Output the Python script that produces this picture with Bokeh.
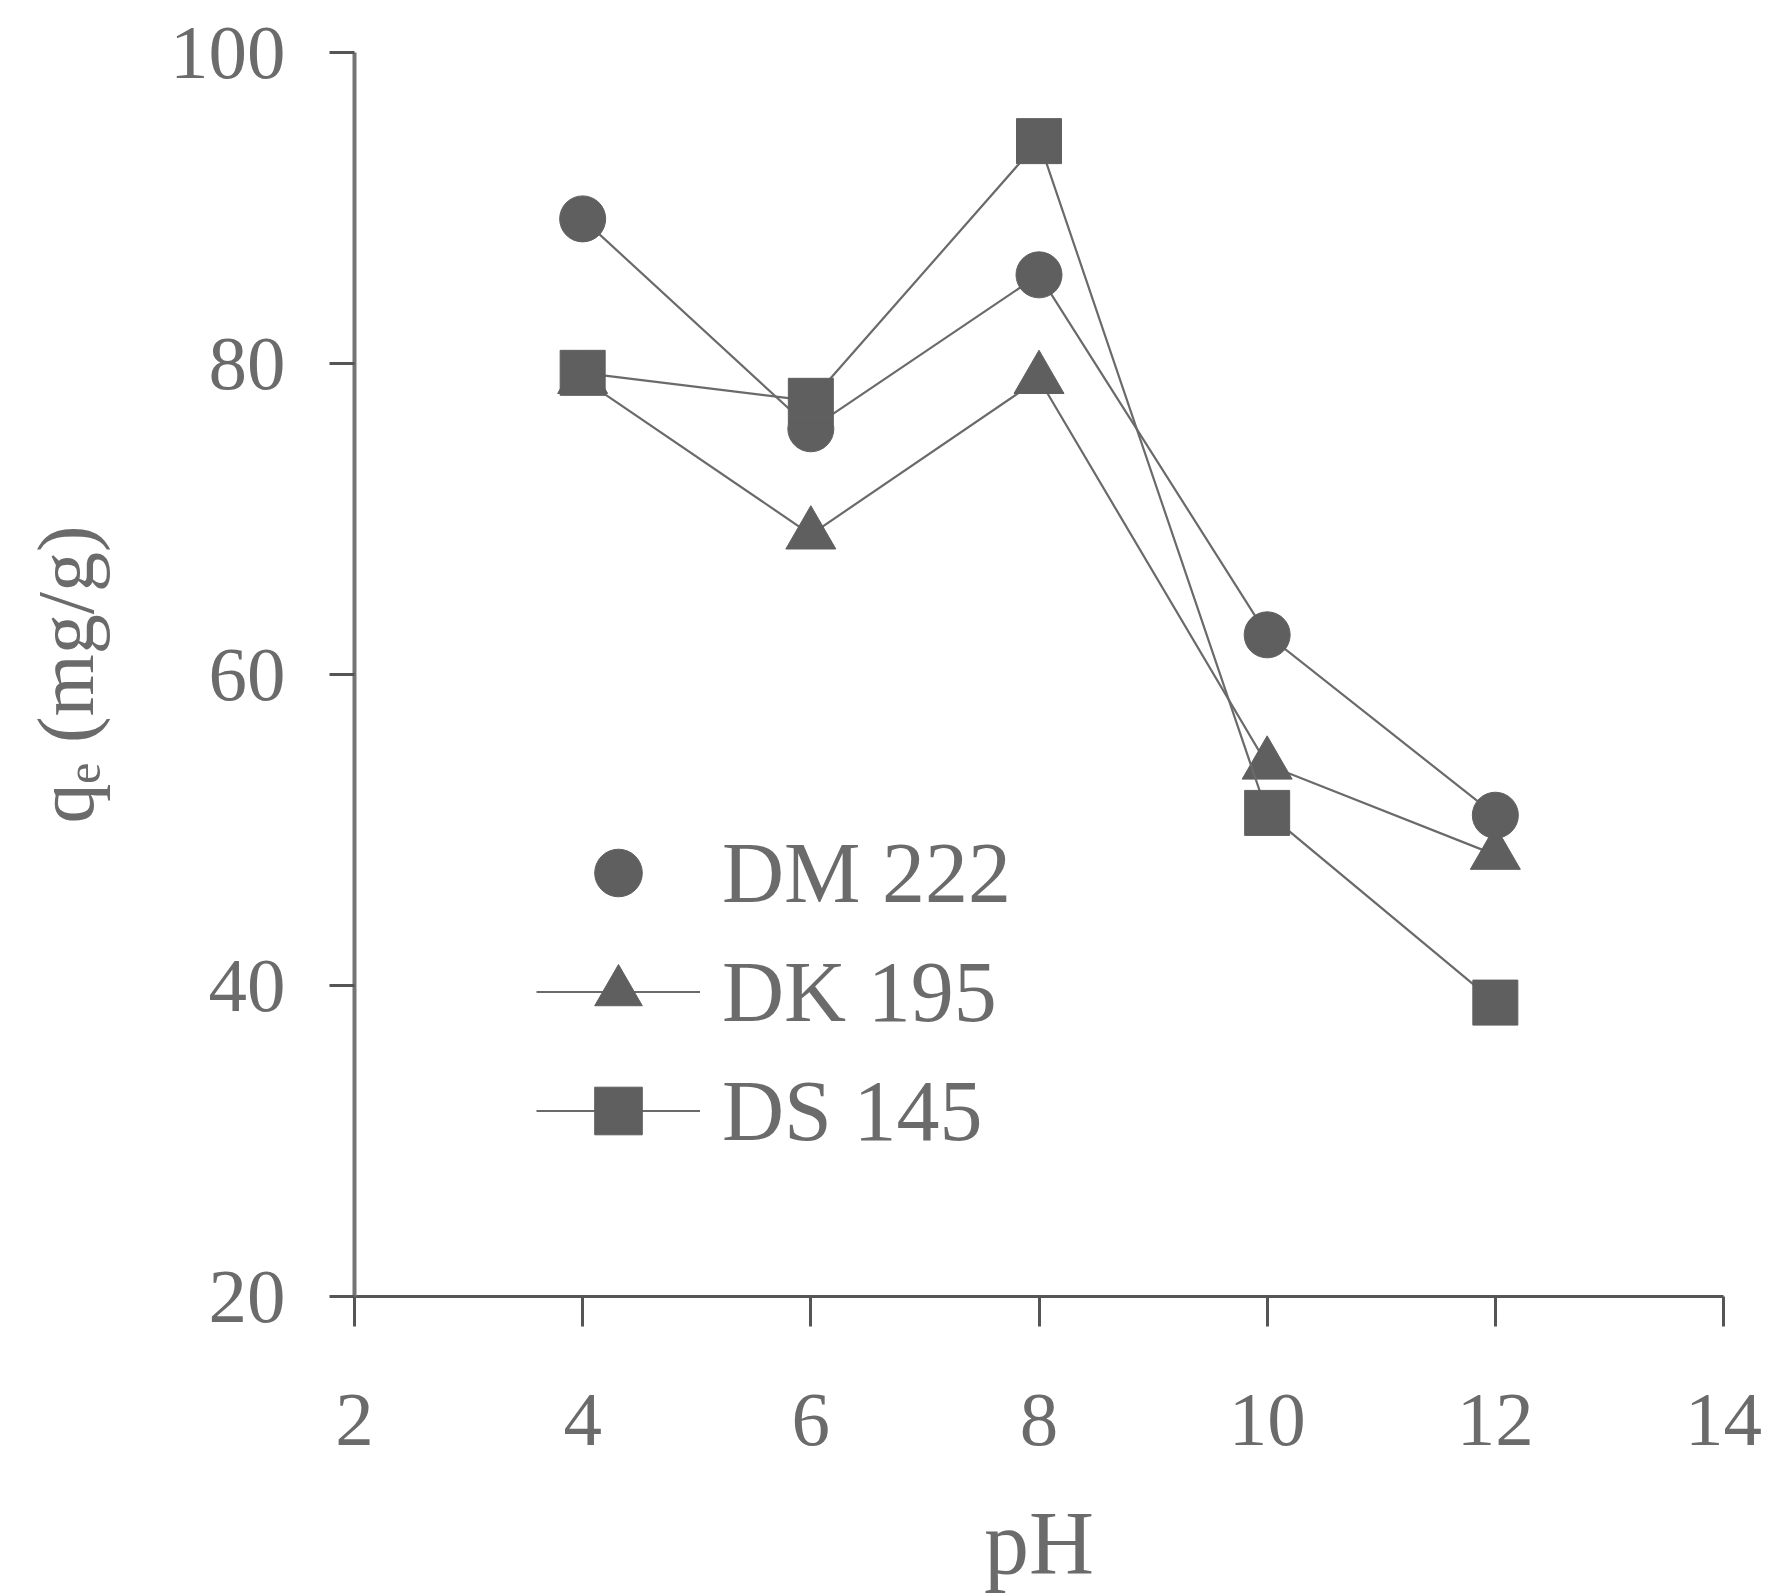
from bokeh.plotting import figure
from bokeh.models import Range1d, Legend, LegendItem, FixedTicker
from bokeh.embed import file_html
from bokeh.resources import INLINE

ph = [4, 6, 8, 10, 12]
dm222 = [89.3, 75.8, 85.7, 62.55, 50.95]
dk195 = [79.0, 69.0, 79.0, 54.2, 48.4]
ds145 = [79.4, 77.6, 94.3, 51.1, 38.9]
x_ticks = [2, 4, 6, 8, 10, 12, 14]
y_ticks = [20, 40, 60, 80, 100]

FONT = "Liberation Serif"
GRAY = "#6b6b6b"
MARK = "#5f5f5f"
LINE = "#6a6a6a"

p = figure(width=1770, height=1600, x_range=Range1d(2, 14), y_range=Range1d(20, 100),
           output_backend="svg", toolbar_location=None,
           min_border_left=354, min_border_right=47, min_border_top=52, min_border_bottom=304)
p.grid.visible = False
p.outline_line_color = None
p.background_fill_color = "white"
p.border_fill_color = "white"

for ax in (p.xaxis[0], p.yaxis[0]):
    ax.minor_tick_line_color = None
    ax.major_tick_in = 0
    ax.major_label_text_font = FONT
    ax.major_label_text_color = GRAY
    ax.major_label_text_font_size = "77px"
    ax.axis_label_text_font = FONT
    ax.axis_label_text_color = GRAY
    ax.axis_label_text_font_style = "normal"

p.xaxis.ticker = FixedTicker(ticks=x_ticks)
p.yaxis.ticker = FixedTicker(ticks=y_ticks)
p.xaxis.axis_line_color = "#555555"
p.yaxis.axis_line_color = "#747474"
p.xaxis.major_tick_line_color = "#555555"
p.yaxis.major_tick_line_color = "#555555"
p.xaxis.axis_line_width = 3
p.yaxis.axis_line_width = 4
p.xaxis.major_tick_line_width = 3
p.yaxis.major_tick_line_width = 3
p.xaxis.major_tick_out = 30
p.yaxis.major_tick_out = 25
p.xaxis.major_label_standoff = 68
p.yaxis.major_label_standoff = 44
p.yaxis.axis_label = "qₑ (mg/g)"
p.yaxis.axis_label_text_font_size = "80px"
p.yaxis.axis_label_standoff = 57
p.xaxis.axis_label = "pH"
p.xaxis.axis_label_text_font_size = "90px"
p.xaxis.axis_label_standoff = 46

# triangles first, then circles, then squares on top
l2 = p.line(ph, dk195, line_color=LINE, line_width=2.2)
s2 = p.scatter(ph, dk195, marker="triangle", size=50, fill_color=MARK, line_color=MARK)
l1 = p.line(ph, dm222, line_color=LINE, line_width=2.2)
s1 = p.scatter(ph, dm222, marker="circle", size=46, fill_color=MARK, line_color=MARK)
l3 = p.line(ph, ds145, line_color=LINE, line_width=2.2)
s3 = p.scatter(ph, ds145, marker="square", size=45, fill_color=MARK, line_color=MARK)

legend = Legend(items=[
    LegendItem(label="DM 222", renderers=[s1]),
    LegendItem(label="DK 195", renderers=[l2, s2]),
    LegendItem(label="DS 145", renderers=[l3, s3]),
], location=(182, 126))
legend.glyph_width = 164
legend.glyph_height = 119
legend.label_height = 119
legend.spacing = 0
legend.padding = 0
legend.margin = 0
legend.label_standoff = 22
legend.border_line_color = None
legend.background_fill_alpha = 0
legend.label_text_font = FONT
legend.label_text_font_size = "86px"
legend.label_text_color = GRAY
legend.label_text_baseline = "middle"
p.add_layout(legend, "center")

open("out.html", "w").write(file_html(p, INLINE))
